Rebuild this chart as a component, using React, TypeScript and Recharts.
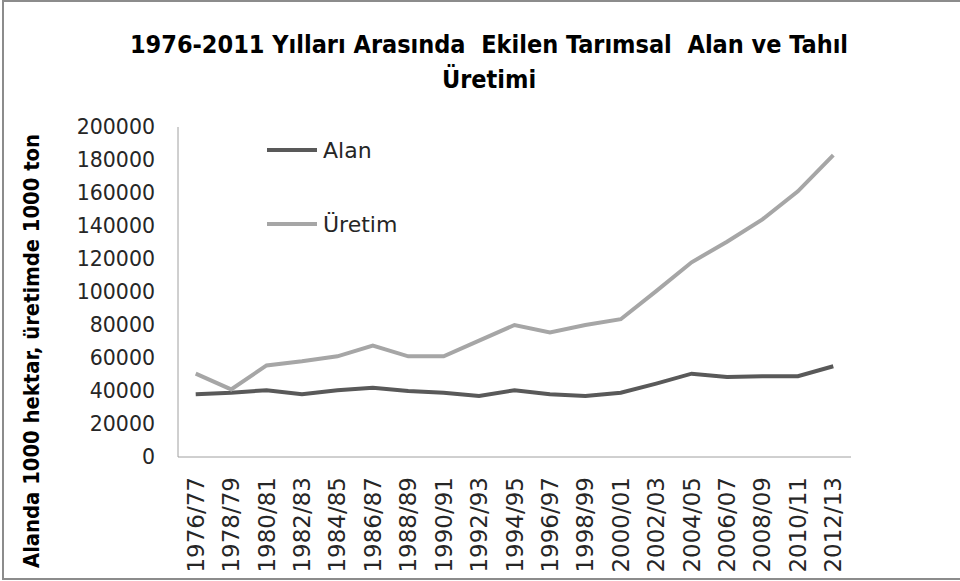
import React from "react";
import { LineChart, Line, XAxis, YAxis, Legend } from "recharts";

const periods = [
  "1976/77", "1978/79", "1980/81", "1982/83", "1984/85", "1986/87", "1988/89",
  "1990/91", "1992/93", "1994/95", "1996/97", "1998/99", "2000/01", "2002/03",
  "2004/05", "2006/07", "2008/09", "2010/11", "2012/13",
];

const alan = [
  38000, 39000, 40500, 38000, 40500, 42000, 40000, 39000, 37000, 40500,
  38000, 37000, 39000, 44500, 50500, 48500, 49000, 49000, 55000,
];

const uretim = [
  50500, 41000, 55500, 58000, 61000, 67500, 61000, 61000, 70500, 80000,
  75500, 80000, 83500, 100500, 118000, 130500, 144000, 161000, 183000,
];

const yTicks = [0, 20000, 40000, 60000, 80000, 100000, 120000, 140000, 160000, 180000, 200000];

const data = periods.map((p, i) => ({ period: p, Alan: alan[i], "Üretim": uretim[i] }));

const TICK_FONT = "'DejaVu Sans', Verdana, sans-serif";
const BOLD_FONT = "'Liberation Sans Narrow', 'Arial Narrow', 'DejaVu Sans Condensed', sans-serif";

const XTick = (props: any) => {
  const { x, y, payload } = props;
  const ty = y + 20;
  return (
    <text
      x={x}
      y={ty}
      transform={`rotate(-90, ${x}, ${ty})`}
      textAnchor="end"
      dominantBaseline="central"
      fontFamily={TICK_FONT}
      fontSize={23}
      fill="#262626"
    >
      {payload.value}
    </text>
  );
};

const renderLegend = (props: any) => {
  const { payload } = props;
  return (
    <div>
      {payload.map((entry: any) => (
        <div
          key={entry.value}
          style={{ display: "flex", alignItems: "center", height: 30, marginBottom: 44 }}
        >
          <svg width={52} height={10}>
            <line x1={1} y1={5} x2={51} y2={5} stroke={entry.color} strokeWidth={4} />
          </svg>
          <span
            style={{ fontFamily: TICK_FONT, fontSize: 22, color: "#262626", marginLeft: 5 }}
          >
            {entry.value}
          </span>
        </div>
      ))}
    </div>
  );
};

export default function App() {
  return (
    <div style={{ position: "relative", width: 960, height: 581, background: "#fff", overflow: "hidden" }}>
      <style>{"body{margin:0}"}</style>
      <div
        style={{
          position: "absolute",
          left: 2,
          top: 0,
          width: 960,
          height: 576,
          border: "2px solid #8c8c8c",
          borderRight: "none",
        }}
      />
      <div
        style={{
          position: "absolute",
          left: 0,
          width: 978,
          top: 27,
          textAlign: "center",
          fontFamily: BOLD_FONT,
          fontWeight: 700,
          fontSize: 25,
          lineHeight: "35px",
          color: "#000",
        }}
      >
        1976-2011 Yılları Arasında&nbsp; Ekilen Tarımsal&nbsp; Alan ve Tahıl
        <br />
        Üretimi
      </div>
      <div
        style={{
          position: "absolute",
          left: 31,
          top: 351,
          transform: "translate(-50%, -50%) rotate(-90deg)",
          whiteSpace: "nowrap",
          fontFamily: BOLD_FONT,
          fontWeight: 700,
          fontSize: 21.8,
          color: "#000",
        }}
      >
        Alanda 1000 hektar, üretimde 1000 ton
      </div>
      <div style={{ position: "absolute", left: 0, top: 0 }}>
        <LineChart
          width={960}
          height={581}
          data={data}
          margin={{ top: 127, right: 109, bottom: 14, left: 78 }}
        >
          <XAxis
            dataKey="period"
            scale="band"
            interval={0}
            height={110}
            tickLine={false}
            tickSize={0}
            tickMargin={0}
            stroke="#a0a0a0"
            tick={<XTick />}
          />
          <YAxis
            width={100}
            domain={[0, 200000]}
            ticks={yTicks}
            interval={0}
            tickLine={false}
            tickSize={0}
            tickMargin={23}
            stroke="#a0a0a0"
            tick={{ fontFamily: TICK_FONT, fontSize: 20.5, fill: "#262626" }}
          />
          <Legend
            layout="vertical"
            verticalAlign="middle"
            align="center"
            wrapperStyle={{ left: 266, top: 135, width: 200 }}
            content={renderLegend}
          />
          <Line
            type="linear"
            dataKey="Alan"
            stroke="#595959"
            strokeWidth={4}
            dot={false}
            isAnimationActive={false}
          />
          <Line
            type="linear"
            dataKey="Üretim"
            stroke="#a6a6a6"
            strokeWidth={4}
            dot={false}
            isAnimationActive={false}
          />
        </LineChart>
      </div>
    </div>
  );
}
